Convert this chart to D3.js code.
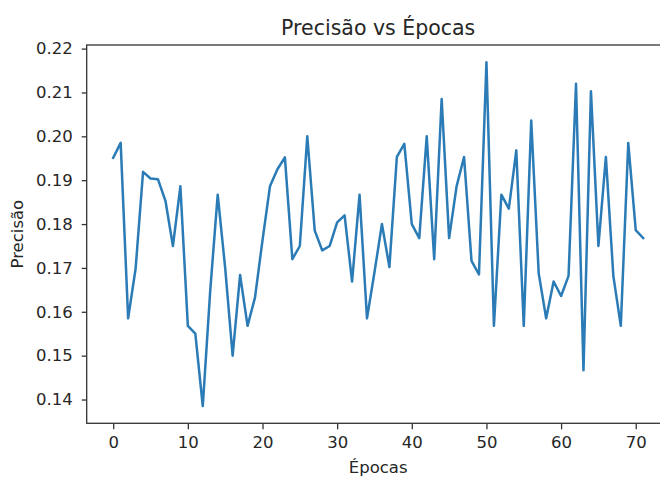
<!DOCTYPE html>
<html>
<head>
<meta charset="utf-8">
<script src="https://cdn.jsdelivr.net/npm/d3@7"></script>
<style>
  html, body { margin: 0; padding: 0; background: #fff; }
  svg { display: block; }
  text { font-family: "DejaVu Sans", sans-serif; fill: #262626; }
</style>
</head>
<body>
<div id="chart"></div>
<script>
// precision per epoch
const epochs = d3.range(0, 72);
const precisao = [
  0.1951, 0.1985, 0.1585, 0.1698, 0.1919, 0.1904, 0.1902, 0.1853, 0.1750, 0.1886,
  0.1568, 0.1550, 0.1385, 0.1649, 0.1867, 0.1700, 0.1500, 0.1684, 0.1568, 0.1633,
  0.1763, 0.1886, 0.1925, 0.1952, 0.1720, 0.1750, 0.2000, 0.1785, 0.1740, 0.1750,
  0.1804, 0.1820, 0.1669, 0.1867, 0.1585, 0.1690, 0.1800, 0.1702, 0.1953, 0.1983,
  0.1800, 0.1768, 0.2000, 0.1720, 0.2085, 0.1768, 0.1886, 0.1953, 0.1716, 0.1685,
  0.2169, 0.1568, 0.1867, 0.1835, 0.1968, 0.1568, 0.2036, 0.1688, 0.1585, 0.1669,
  0.1636, 0.1682, 0.2120, 0.1467, 0.2103, 0.1750, 0.1953, 0.1682, 0.1568, 0.1985,
  0.1786, 0.1768
];
const xTicks = [0, 10, 20, 30, 40, 50, 60, 70];
const yTicks = [0.14, 0.15, 0.16, 0.17, 0.18, 0.19, 0.20, 0.21, 0.22];
const titulo = "Precisão vs Épocas";
const xLabel = "Épocas";
const yLabel = "Precisão";

const width = 660, height = 478;
const box = { left: 86.7, right: 669.7, top: 45, bottom: 423.3 };

const svg = d3.select("#chart").append("svg")
    .attr("width", width)
    .attr("height", height);

// matplotlib-like 5% margins around the data
const xPad = (d3.max(epochs) - d3.min(epochs)) * 0.05;
const yPad = (d3.max(precisao) - d3.min(precisao)) * 0.05;

const x = d3.scaleLinear()
    .domain([d3.min(epochs) - xPad, d3.max(epochs) + xPad])
    .range([box.left, box.right]);

const y = d3.scaleLinear()
    .domain([d3.min(precisao) - yPad, d3.max(precisao) + yPad])
    .range([box.bottom, box.top]);

// line
const line = d3.line()
    .x((d, i) => x(epochs[i]))
    .y(d => y(d));

svg.append("path")
    .datum(precisao)
    .attr("fill", "none")
    .attr("stroke", "#2a7bb6")
    .attr("stroke-width", 2.5)
    .attr("stroke-linejoin", "round")
    .attr("stroke-linecap", "square")
    .attr("d", line);

// axes
const xAxis = svg.append("g")
    .attr("transform", `translate(0,${box.bottom})`)
    .call(d3.axisBottom(x).tickValues(xTicks).tickSize(6).tickPadding(7).tickSizeOuter(0)
        .tickFormat(d3.format("d")));

const yAxis = svg.append("g")
    .attr("transform", `translate(${box.left},0)`)
    .call(d3.axisLeft(y).tickValues(yTicks).tickSize(5).tickPadding(9).tickSizeOuter(0)
        .tickFormat(d3.format(".2f")));

[xAxis, yAxis].forEach(g => {
    g.select(".domain").remove();
    g.selectAll(".tick line").attr("stroke", "#333").attr("stroke-width", 1.3);
    g.selectAll(".tick text").attr("font-size", 16.5).attr("fill", "#262626")
        .style("font-family", "'DejaVu Sans', sans-serif");
});

// spines (right one falls outside the picture)
svg.append("rect")
    .attr("x", box.left)
    .attr("y", box.top)
    .attr("width", box.right - box.left)
    .attr("height", box.bottom - box.top)
    .attr("fill", "none")
    .attr("stroke", "#333")
    .attr("stroke-width", 1.3);

// title + labels
const cx = (box.left + box.right) / 2;
svg.append("text")
    .attr("x", cx)
    .attr("y", 35)
    .attr("text-anchor", "middle")
    .attr("font-size", 20.5)
    .text(titulo);

svg.append("text")
    .attr("x", cx)
    .attr("y", 473)
    .attr("text-anchor", "middle")
    .attr("font-size", 16.5)
    .text(xLabel);

svg.append("text")
    .attr("transform", `translate(23,${(box.top + box.bottom) / 2}) rotate(-90)`)
    .attr("text-anchor", "middle")
    .attr("font-size", 16.5)
    .text(yLabel);
</script>
</body>
</html>
